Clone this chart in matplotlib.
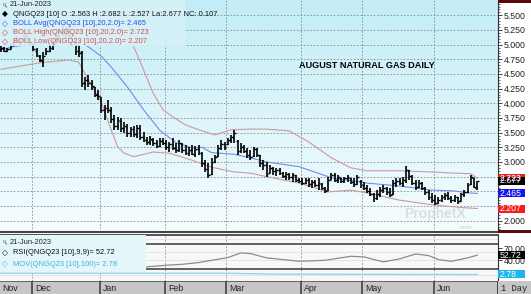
import numpy as np
import matplotlib
matplotlib.use('Agg')
import matplotlib.pyplot as plt
from matplotlib.patches import Rectangle

# daily OHLC bars, 16-Nov-2022 .. 21-Jun-2023 (index = trading day)
opens = [4.93, 4.95, 4.90, 4.93, 5.00, 5.08, 5.05, 5.10, 5.14, 5.09,
         4.98, 4.90, 4.80, 4.72, 4.84, 4.90, 4.94, 5.05, 5.14, 5.22, 5.20, 5.25, 5.15, 5.02, 4.90,
         4.88, 4.35, 4.40, 4.34, 4.28, 4.16,
         4.10, 3.88, 3.92, 3.88, 3.74, 3.62, 3.70, 3.58, 3.60, 3.50, 3.56, 3.48, 3.56, 3.42,
         3.38, 3.34, 3.38, 3.32, 3.28, 3.36,
         3.33, 3.25, 3.30, 3.24, 3.20, 3.30, 3.20, 3.16, 3.20, 3.14, 3.22, 3.15, 2.98, 2.88,
         2.80, 3.00, 3.10, 3.24, 3.30,
         3.30, 3.38, 3.42, 3.35, 3.18, 3.26, 3.18, 3.12, 3.10, 3.22, 3.12, 2.98, 2.94, 2.82,
         2.90, 2.84, 2.86, 2.82, 2.76, 2.80, 2.74, 2.78, 2.70,
         2.68, 2.64, 2.70, 2.62, 2.66, 2.60, 2.62, 2.56, 2.52, 2.70, 2.78, 2.70, 2.72, 2.68,
         2.72, 2.72, 2.66, 2.62, 2.68,
         2.60, 2.56, 2.50, 2.46, 2.38, 2.45, 2.52, 2.56, 2.48, 2.46, 2.64, 2.68, 2.64, 2.70,
         2.86, 2.76, 2.64, 2.58, 2.64, 2.56, 2.48, 2.40,
         2.35, 2.30, 2.36, 2.40, 2.44, 2.38, 2.36, 2.40, 2.34, 2.45, 2.48, 2.62, 2.72, 2.563]
highs = [4.97, 4.96, 4.95, 5.02, 5.10, 5.15, 5.12, 5.18, 5.20, 5.12,
         5.02, 4.94, 4.82, 4.87, 4.94, 4.99, 5.08, 5.18, 5.28, 5.35, 5.30, 5.32, 5.20, 5.05, 4.99,
         4.90, 4.45, 4.48, 4.40, 4.28, 4.23,
         4.11, 3.97, 4.06, 3.94, 3.80, 3.77, 3.75, 3.68, 3.65, 3.60, 3.61, 3.63, 3.63, 3.51,
         3.43, 3.44, 3.41, 3.37, 3.41, 3.41,
         3.37, 3.34, 3.41, 3.32, 3.37, 3.32, 3.29, 3.26, 3.29, 3.27, 3.29, 3.17, 3.03, 2.98,
         3.06, 3.12, 3.29, 3.37, 3.34,
         3.41, 3.46, 3.55, 3.37, 3.32, 3.29, 3.24, 3.20, 3.26, 3.24, 3.12, 3.03, 3.00, 2.95,
         2.91, 2.90, 2.90, 2.83, 2.83, 2.81, 2.81, 2.78, 2.72,
         2.72, 2.72, 2.72, 2.69, 2.69, 2.72, 2.64, 2.57, 2.74, 2.81, 2.81, 2.78, 2.72, 2.74,
         2.78, 2.72, 2.72, 2.78, 2.69,
         2.66, 2.61, 2.55, 2.47, 2.52, 2.57, 2.61, 2.57, 2.55, 2.69, 2.72, 2.72, 2.74, 2.93,
         2.87, 2.78, 2.69, 2.69, 2.66, 2.57, 2.52, 2.47,
         2.44, 2.40, 2.44, 2.47, 2.49, 2.42, 2.44, 2.40, 2.47, 2.52, 2.64, 2.78, 2.72, 2.682]
lows = [4.88, 4.87, 4.88, 4.92, 4.98, 5.02, 5.00, 5.05, 5.06, 4.98,
        4.90, 4.79, 4.70, 4.62, 4.82, 4.87, 4.91, 5.02, 5.10, 5.15, 5.12, 5.10, 5.02, 4.82, 4.79,
        4.28, 4.23, 4.28, 4.23, 4.11, 4.06,
        3.83, 3.72, 3.83, 3.67, 3.55, 3.55, 3.51, 3.49, 3.43, 3.43, 3.43, 3.41, 3.38, 3.34,
        3.29, 3.29, 3.27, 3.24, 3.26, 3.29,
        3.20, 3.17, 3.20, 3.15, 3.17, 3.15, 3.12, 3.10, 3.12, 3.08, 3.12, 2.92, 2.83, 2.72,
        2.78, 2.98, 3.08, 3.20, 3.20,
        3.29, 3.32, 3.32, 3.12, 3.15, 3.15, 3.07, 3.03, 3.08, 3.08, 2.92, 2.86, 2.74, 2.81,
        2.78, 2.76, 2.78, 2.72, 2.69, 2.69, 2.66, 2.66, 2.64,
        2.61, 2.62, 2.57, 2.55, 2.57, 2.52, 2.52, 2.47, 2.50, 2.69, 2.66, 2.64, 2.64, 2.64,
        2.66, 2.62, 2.57, 2.61, 2.55,
        2.52, 2.47, 2.42, 2.32, 2.35, 2.40, 2.47, 2.44, 2.40, 2.44, 2.57, 2.61, 2.57, 2.64,
        2.69, 2.61, 2.52, 2.55, 2.52, 2.44, 2.35, 2.30,
        2.27, 2.28, 2.32, 2.35, 2.35, 2.30, 2.32, 2.28, 2.33, 2.40, 2.47, 2.61, 2.55, 2.527]
closes = [4.95, 4.90, 4.93, 5.00, 5.08, 5.05, 5.10, 5.14, 5.09, 5.02,
          4.92, 4.82, 4.74, 4.80, 4.90, 4.95, 5.04, 5.14, 5.22, 5.20, 5.25, 5.15, 5.06, 4.90, 4.85,
          4.35, 4.40, 4.34, 4.30, 4.15, 4.12,
          3.88, 3.92, 3.88, 3.74, 3.62, 3.72, 3.58, 3.62, 3.50, 3.56, 3.48, 3.58, 3.42, 3.38,
          3.34, 3.40, 3.32, 3.28, 3.36, 3.33,
          3.25, 3.30, 3.24, 3.20, 3.32, 3.20, 3.16, 3.20, 3.14, 3.22, 3.15, 2.98, 2.88, 2.78,
          3.00, 3.08, 3.24, 3.30, 3.26,
          3.38, 3.42, 3.50, 3.18, 3.26, 3.18, 3.12, 3.08, 3.22, 3.12, 2.98, 2.94, 2.80, 2.90,
          2.84, 2.86, 2.82, 2.76, 2.80, 2.74, 2.78, 2.70, 2.68,
          2.64, 2.70, 2.62, 2.66, 2.60, 2.64, 2.56, 2.50, 2.70, 2.78, 2.70, 2.74, 2.68, 2.72,
          2.74, 2.66, 2.62, 2.74, 2.60,
          2.56, 2.50, 2.46, 2.38, 2.45, 2.52, 2.56, 2.48, 2.44, 2.64, 2.68, 2.64, 2.70, 2.86,
          2.76, 2.64, 2.58, 2.64, 2.56, 2.48, 2.40, 2.35,
          2.30, 2.36, 2.40, 2.44, 2.38, 2.36, 2.41, 2.34, 2.45, 2.48, 2.60, 2.74, 2.57, 2.677]

# Bollinger bands (20, 2.0) at these bar indices
avg_idx = [0, 4, 10, 16, 22, 26, 28, 31, 34, 39, 44, 49, 54, 59, 62, 65, 72, 77, 82, 92,
           102, 113, 123, 133, 139, 145, 147]
avg_vals = [4.91, 4.97, 5.01, 5.03, 5.04, 5.00, 4.92, 4.80, 4.62, 4.28, 3.89, 3.54, 3.33,
            3.24, 3.25, 3.16, 3.13, 3.07, 3.00, 2.92, 2.73, 2.64, 2.59, 2.52, 2.51, 2.47, 2.465]
up_idx = [30, 36, 39, 40, 41, 44, 47, 50, 53, 57, 61, 66, 71, 77, 82, 89, 95, 102, 108,
          113, 123, 133, 140, 145, 147]
up_vals = [6.30, 5.85, 5.45, 5.15, 4.96, 4.57, 4.17, 3.89, 3.77, 3.63, 3.55, 3.46, 3.55,
           3.56, 3.56, 3.53, 3.34, 3.07, 2.90, 2.85, 2.85, 2.83, 2.81, 2.80, 2.723]
low_idx = [0, 12, 21, 24, 27, 31, 34, 36, 38, 41, 47, 52, 59, 65, 72, 77, 82, 92, 101,
           108, 113, 123, 133, 139, 143, 147]
low_vals = [4.58, 4.69, 4.74, 4.70, 4.40, 4.01, 3.55, 3.26, 3.15, 3.09, 3.17, 3.15, 3.03,
            2.91, 2.83, 2.81, 2.75, 2.64, 2.49, 2.52, 2.47, 2.35, 2.27, 2.24, 2.22, 2.207]

# RSI(9,9) and MOV(100) in the lower pane
rsi_idx = [45, 51, 56, 61, 64, 70, 74, 77, 82, 92, 100, 108, 112, 118, 123, 128, 132, 135,
           139, 144, 147]
rsi_vals = [24.1, 28.0, 30.4, 34.6, 38.7, 46.7, 58.1, 56.4, 46.0, 37.7, 40.1, 49.9, 48.4,
            36.3, 43.5, 55.7, 51.6, 41.8, 37.7, 46.0, 52.72]
mov_idx = [0, 70, 85, 147]
mov_vals = [2.93, 2.92, 2.82, 2.78]

months = ['Nov', 'Dec', 'Jan', 'Feb', 'Mar', 'Apr', 'May', 'Jun']
month_start = [0, 10, 31, 51, 70, 93, 112, 134]
price_ticks = [2.0, 2.25, 2.5, 2.75, 3.0, 3.25, 3.5, 3.75, 4.0, 4.25, 4.5, 4.75, 5.0, 5.25, 5.5]
hidden_ticks = [2.25, 2.5, 2.75]  # covered by the value boxes

W, H = 531, 294
FONT = ['Liberation Sans', 'DejaVu Sans']
plt.rcParams['font.family'] = FONT


def fx(x):
    return x / W


def fy(y):
    return 1 - y / H


fig = plt.figure(figsize=(W / 100, H / 100), dpi=100, facecolor='white')
RX = 497.5  # right edge of the plot panels

ax = fig.add_axes([0, fy(231.5), fx(RX), 231.5 / H])
xlim = (-1 / 3.24, (RX - 1) / 3.24)
ax.set_xlim(*xlim)
ax.set_ylim(1.815, 5.761)

# light cyan gradient background
grad = np.linspace(0, 1, 256).reshape(-1, 1)
top_c = np.array([0.76, 0.93, 0.965])
bot_c = np.array([0.965, 0.99, 1.0])
img = top_c + (bot_c - top_c) * grad[:, :, None]
ax.imshow(img, extent=[xlim[0], xlim[1], 1.815, 5.761], aspect='auto', origin='upper', zorder=0)

for v in price_ticks:
    ax.axhline(v, color='#8a8a8a', lw=0.6, dashes=(2, 2), zorder=1)
for m in month_start[1:]:
    ax.axvline(m - 0.5, color='#8a8a8a', lw=0.6, dashes=(2, 2), zorder=1)

ax.plot(up_idx, up_vals, color='#cc9a9a', lw=0.8, zorder=2)
ax.plot(low_idx, low_vals, color='#cc9a9a', lw=0.8, zorder=2)
ax.plot(avg_idx, avg_vals, color='#6f8ee6', lw=0.8, zorder=2)

idx = np.arange(len(closes))
ax.vlines(idx, lows, highs, color='black', lw=1.2, zorder=3)
ax.hlines(opens, idx - 0.55, idx, color='black', lw=1.0, zorder=3)
ax.hlines(closes, idx, idx + 0.55, color='black', lw=1.0, zorder=3)

ax.yaxis.tick_right()
ax.set_yticks(price_ticks)
ax.set_yticklabels(['' if v in hidden_ticks else '{:.3f}'.format(v) for v in price_ticks])
ax.set_yticks(np.arange(1.85, 5.76, 0.05), minor=True)
ax.tick_params(axis='y', which='major', direction='out', length=3, width=0.6, pad=1.5,
               labelsize=6.3, colors='#222222')
ax.tick_params(axis='y', which='minor', direction='out', length=1.5, width=0.5, colors='#222222')
ax.set_xticks([])
for s in ['left', 'top']:
    ax.spines[s].set_visible(False)
ax.spines['right'].set_color('#333333')
ax.spines['right'].set_linewidth(0.8)
ax.spines['bottom'].set_color('#444444')
ax.spines['bottom'].set_linewidth(1.5)

ax.text(367 / RX, 1 - 66 / 231.5, 'AUGUST NATURAL GAS DAILY', transform=ax.transAxes,
        ha='center', va='center', fontsize=6.6, fontweight='bold', color='black', zorder=5)
ax.text(0.875, 0.075, 'ProphetX', transform=ax.transAxes, ha='center', va='center',
        fontsize=10, fontweight='bold', color='#d4d8da', alpha=0.8, zorder=2)
ax.text(0.935, 0.005, '.com', transform=ax.transAxes, ha='center', va='bottom',
        fontsize=4.5, color='#c8cccc', zorder=2)

# lower pane: RSI
ax2 = fig.add_axes([0, fy(280.5), fx(RX), 45.8 / H])
ax3 = ax2.twinx()
ax2.set_xlim(*xlim)
ax2.set_ylim(-9.2, 102.6)
ax2.set_facecolor('#f8f8f8')
for m in month_start[1:]:
    ax2.axvline(m - 0.5, color='#8a8a8a', lw=0.6, dashes=(2, 2), zorder=1)
for v in [93, 60, 40, 5]:
    ax2.axhline(v, color='#e2e2e2', lw=0.6, zorder=1)
ax2.axhline(80, color='#555555', lw=1.3, zorder=2)
ax2.axhline(20, color='#555555', lw=1.3, zorder=2)
ax2.plot(rsi_idx, rsi_vals, color='#8c8c8c', lw=0.9, zorder=3)
ax2.yaxis.tick_right()
ax2.set_yticks([40, 70])
ax2.set_yticklabels(['40.00', '70.00'])
ax2.tick_params(axis='y', direction='out', length=3, width=0.6, pad=1.5, labelsize=6.3,
                colors='#222222')
ax2.set_xticks([])
for s in ['left', 'bottom']:
    ax2.spines[s].set_visible(False)
ax2.spines['top'].set_color('#444444')
ax2.spines['top'].set_linewidth(1.3)
ax2.spines['right'].set_color('#333333')
ax2.spines['right'].set_linewidth(0.8)

ax3.set_ylim(2.1, 7.29)
ax3.plot(mov_idx, mov_vals, color='#8fd8ee', lw=1.0)
ax3.axis('off')

# date strip
axd = fig.add_axes([0, 0, fx(RX), 13 / H])
axd.set_xlim(*xlim)
axd.set_ylim(0, 1)
axd.set_facecolor('#c6c6c6')
axd.set_xticks([])
axd.set_yticks([])
for s in axd.spines.values():
    s.set_visible(False)
axd.axhline(1, color='#555555', lw=1.2)
for name, m in zip(months, month_start):
    if m > 0:
        axd.axvline(m - 0.5, color='#444444', lw=1.2)
    axd.text(m - 0.5 + 1.0 if m > 0 else 0.3, 0.42, name, ha='left', va='center',
             fontsize=6.3, color='#222222')
fig.patches.append(Rectangle((fx(RX), 0), 1 - fx(RX), 13 / H, transform=fig.transFigure,
                             facecolor='#c6c6c6', edgecolor='none'))
fig.patches.append(Rectangle((fx(RX) - 0.001, 0), 0.002, 13 / H, transform=fig.transFigure,
                             facecolor='#444444', edgecolor='none'))
fig.text(fx(501), fy(288.5), '1 Day', ha='left', va='center', fontsize=6.3,
         family=['Liberation Mono', 'DejaVu Sans Mono'], color='#222222')

# dark red caps on the right column
fig.patches.append(Rectangle((fx(RX), fy(2.5)), 1 - fx(RX), 2.5 / H, transform=fig.transFigure,
                             facecolor='#5a0a0a', edgecolor='none'))
fig.patches.append(Rectangle((fx(RX), fy(232.5)), 1 - fx(RX), 3 / H, transform=fig.transFigure,
                             facecolor='#5a0a0a', edgecolor='none'))

# legend boxes
fig.patches.append(Rectangle((0, fy(46)), fx(185), 46 / H, transform=fig.transFigure,
                             facecolor='#d6f2f8', edgecolor='none', alpha=0.92))
fig.patches.append(Rectangle((0, fy(271.5)), fx(146), 36.5 / H, transform=fig.transFigure,
                             facecolor='#e4f6fa', edgecolor='none'))

LF = 5.4


def legend_row(x, y, marker, text, color, mcolor):
    fig.text(fx(x), fy(y), marker, ha='center', va='center', fontsize=5.5,
             family=['DejaVu Sans'], color=mcolor)
    fig.text(fx(x + 8), fy(y), text, ha='left', va='center', fontsize=LF, color=color)


def magnifier(x, y):
    fig.text(fx(x), fy(y), 'o', ha='center', va='center', fontsize=3.5, color='#555555')
    fig.add_artist(plt.Line2D([fx(x + 1.2), fx(x + 2.6)], [fy(y + 1.2), fy(y + 2.6)],
                              transform=fig.transFigure, color='#555555', lw=0.6))


magnifier(4, 4.5)
fig.text(fx(10), fy(5), '21-Jun-2023', ha='left', va='center', fontsize=LF, color='#222222')
legend_row(5, 14, '\u25c6', 'QNGQ23 [10] O :2.563 H :2.682 L :2.527 La:2.677 NC: 0.107',
           '#111111', 'black')
legend_row(5, 23.5, '\u25c7', 'BOLL Avg(QNGQ23 [10],20,2.0)= 2.465', '#2b4fe0', '#2b4fe0')
legend_row(5, 32.5, '\u25c7', 'BOLL High(QNGQ23 [10],20,2.0)= 2.723', '#e04a4a', '#d03030')
legend_row(5, 41.5, '\u25c7', 'BOLL Low(QNGQ23 [10],20,2.0)= 2.207', '#e04a4a', '#d03030')

magnifier(4, 241.5)
fig.text(fx(10), fy(242), '21-Jun-2023', ha='left', va='center', fontsize=LF, color='#222222')
legend_row(5, 253, '\u25c7', 'RSI(QNGQ23 [10],9,9)= 52.72', '#111111', 'black')
legend_row(5, 264, '\u25c7', 'MOV(QNGQ23 [10],100)= 2.78', '#3fb3de', '#3fb3de')

# value boxes on the right axis
inv = fig.transFigure.inverted()


def value_box(axis, v, text, face, h=8):
    yf = inv.transform(axis.transData.transform((0, v)))[1]
    hf = h / H
    fig.patches.append(Rectangle((fx(498), yf - hf / 2), fx(27), hf, transform=fig.transFigure,
                                 facecolor=face, edgecolor='none'))
    fig.text(fx(500), yf, text, ha='left', va='center', fontsize=6.3, color='white')


value_box(ax, 2.723, '2.723', '#e82020')
value_box(ax, 2.677, '2.677', '#000000')
value_box(ax, 2.465, '2.465', '#1414f0')
value_box(ax, 2.207, '2.207', '#f01e1e')
value_box(ax2, 52.72, '52.72', '#000000')
value_box(ax3, 2.78, '2.78', '#1eb4ee')

fig.savefig('out.png', dpi=100, facecolor='white')
